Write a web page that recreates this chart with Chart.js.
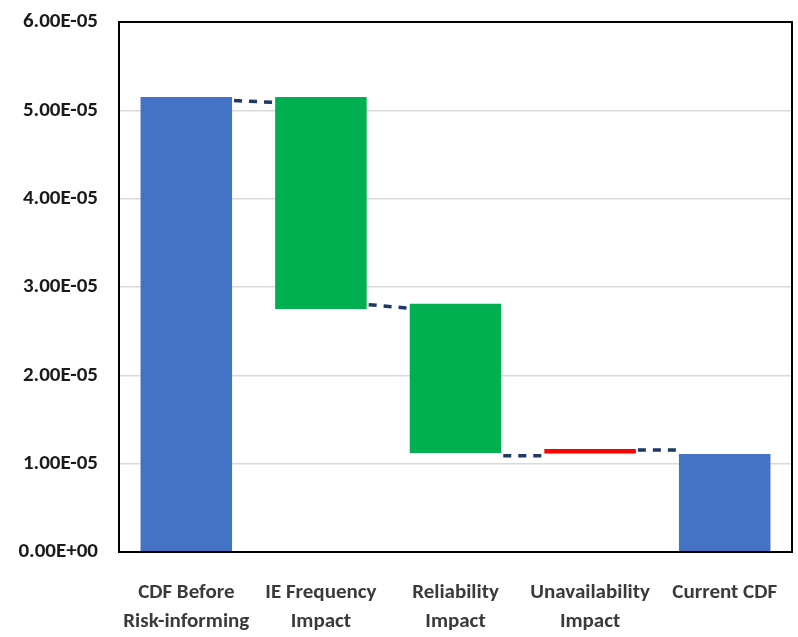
<!DOCTYPE html>
<html>
<head>
<meta charset="utf-8">
<script src="https://cdn.jsdelivr.net/npm/chart.js@4/dist/chart.umd.min.js"></script>
<style>
  html, body { margin: 0; padding: 0; background: #fff; }
  #wrap { width: 798px; height: 637px; }
</style>
</head>
<body>
<div id="wrap"><canvas id="cdfChart"></canvas></div>
<script>
// Waterfall data (CDF per year)
const categories = [
    ['CDF Before', 'Risk-informing'],
    ['IE Frequency', 'Impact'],
    ['Reliability', 'Impact'],
    ['Unavailability', 'Impact'],
    'Current CDF'
];
const barLow  = [0,       2.75e-5, 1.12e-5, 1.115e-5, 0];
const barHigh = [5.15e-5, 5.15e-5, 2.81e-5, 1.165e-5, 1.11e-5];
const barColors = ['#4472C4', '#00B050', '#00B050', '#FF0000', '#4472C4'];

// dashed connector levels (start at right of bar i, end at left of bar i+1)
const connFrom = [5.11e-5, 2.80e-5, 1.09e-5, 1.155e-5];
const connTo   = [5.09e-5, 2.76e-5, 1.09e-5, 1.155e-5];

const yTicks = [0, 1e-5, 2e-5, 3e-5, 4e-5, 5e-5, 6e-5];

const fontFamily = 'Carlito, "Liberation Sans Narrow", "Liberation Sans", Arial, sans-serif';

function sciLabel(v) {
    if (v === 0) return '0.00E+00';
    const exp = Math.floor(Math.log10(Math.abs(v)) + 1e-9);
    const mant = v / Math.pow(10, exp);
    const sign = exp < 0 ? '-' : '+';
    return mant.toFixed(2) + 'E' + sign + String(Math.abs(exp)).padStart(2, '0');
}

// draws the dashed connectors between bars
const connectorPlugin = {
    id: 'connectors',
    afterDatasetsDraw(chart) {
        const meta = chart.getDatasetMeta(0);
        const y = chart.scales.y;
        const ctx = chart.ctx;
        ctx.save();
        ctx.strokeStyle = '#1F3864';
        ctx.lineWidth = 3.5;
        ctx.setLineDash([8, 7]);
        for (let i = 0; i < connFrom.length; i++) {
            const a = meta.data[i];
            const b = meta.data[i + 1];
            ctx.beginPath();
            ctx.moveTo(a.x + a.width / 2 + 2, y.getPixelForValue(connFrom[i]));
            ctx.lineTo(b.x - b.width / 2, y.getPixelForValue(connTo[i]));
            ctx.stroke();
        }
        ctx.restore();
    }
};

// black frame around the plot area
const framePlugin = {
    id: 'frame',
    afterDraw(chart) {
        const { left, top, right, bottom } = chart.chartArea;
        const ctx = chart.ctx;
        ctx.save();
        ctx.strokeStyle = '#000';
        ctx.lineWidth = 2;
        ctx.strokeRect(left, top, right - left, bottom - top);
        ctx.restore();
    }
};

new Chart(document.getElementById('cdfChart'), {
    type: 'bar',
    data: {
        labels: categories,
        datasets: [{
            data: barLow.map((lo, i) => [lo, barHigh[i]]),
            backgroundColor: barColors,
            borderWidth: 0,
            barPercentage: 0.68,
            categoryPercentage: 1.0
        }]
    },
    options: {
        responsive: true,
        maintainAspectRatio: false,
        animation: false,
        layout: { padding: { left: 0, right: 6, top: 22, bottom: 0 } },
        plugins: {
            legend: { display: false },
            tooltip: { enabled: false }
        },
        scales: {
            x: {
                grid: { display: false, drawTicks: false },
                border: { color: '#000', width: 2 },
                ticks: {
                    color: '#3A3A3A',
                    padding: 26,
                    maxRotation: 0,
                    autoSkip: false,
                    font: { family: fontFamily, size: 21, weight: 'bold', lineHeight: 1.4 }
                },
                afterFit(scale) {
                    scale.height = 85;
                    scale.paddingLeft = 0;
                    scale.paddingRight = 0;
                }
            },
            y: {
                min: 0,
                max: 6e-5,
                afterBuildTicks(scale) {
                    scale.ticks = yTicks.map(v => ({ value: v }));
                },
                grid: { color: '#D9D9D9', lineWidth: 1.5, drawTicks: false },
                border: { color: '#000', width: 2 },
                ticks: {
                    color: '#1A1A1A',
                    padding: 21,
                    font: { family: fontFamily, size: 21, weight: 'bold' },
                    callback: v => sciLabel(v)
                },
                afterFit(scale) {
                    scale.width = 119;
                    scale.paddingTop = 0;
                    scale.paddingBottom = 0;
                }
            }
        }
    },
    plugins: [connectorPlugin, framePlugin]
});
</script>
</body>
</html>
